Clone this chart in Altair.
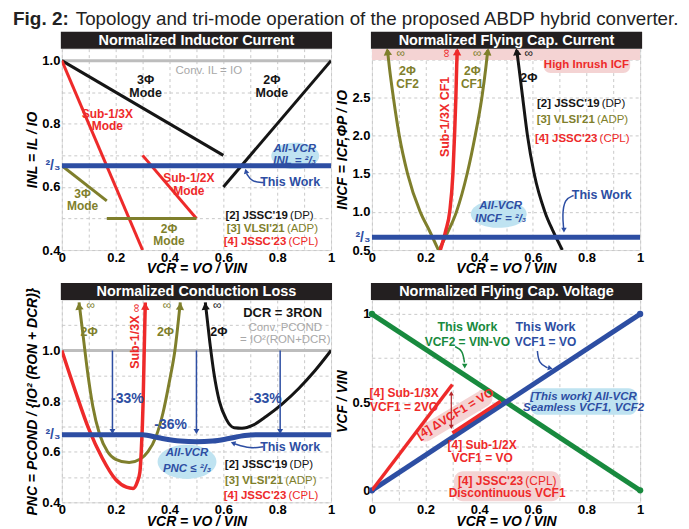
import altair as alt
import pandas as pd

FONT = "'Liberation Sans Narrow', 'Arial Narrow', 'Liberation Sans', Arial, sans-serif"
BLUE = "#2d4ea3"
RED = "#ee2a2a"
OLIVE = "#7f7f2c"
BLACK = "#151515"
GRAY = "#bdbdbd"
TGRAY = "#a8a8a8"
GREEN = "#188a3e"
LBLUE = "#bfe3f1"
PINK = "#f4d3d3"
DRED = "#b3262a"
W, H = 270, 202

# ---------------- data: panel 1 (inductor current) ----------------
p1_conv_x = [0, 1];        p1_conv_y = [1.0, 1.0]
p1_dp3_x = [0, 0.6];       p1_dp3_y = [1.0, 0.7]
p1_dp2_x = [0.6, 1.0];     p1_dp2_y = [0.6, 1.0]
p1_cpl3_x = [0, 0.3];      p1_cpl3_y = [1.0, 0.4]
p1_cpl2_x = [0.3, 0.5];    p1_cpl2_y = [0.7, 0.5]
p1_adp3_x = [0, 0.167];    p1_adp3_y = [0.667, 0.556]
p1_adp2_x = [0.167, 0.5];  p1_adp2_y = [0.5, 0.5]
p1_this_x = [0, 1];        p1_this_y = [0.6667, 0.6667]

# ---------------- data: panel 2 (flying cap current) ----------------
p2_cf2_x = [0.248, 0.215, 0.18, 0.133, 0.102, 0.08, 0.065, 0.058]
p2_cf2_y = [0.5, 0.75, 1.0, 1.5, 2.0, 2.5, 2.9, 3.12]
p2_cf1_x = [0.25, 0.285, 0.315, 0.355, 0.385, 0.41, 0.425, 0.432]
p2_cf1_y = [0.5, 0.75, 1.0, 1.5, 2.0, 2.5, 2.9, 3.12]
p2_cpl_x = [0.255, 0.275, 0.29, 0.302, 0.308, 0.313, 0.316, 0.318]
p2_cpl_y = [0.5, 0.75, 1.0, 1.5, 2.0, 2.5, 2.9, 3.12]
p2_dp_x = [0.71, 0.675, 0.645, 0.605, 0.58, 0.562, 0.548, 0.54]
p2_dp_y = [0.5, 0.75, 1.0, 1.5, 2.0, 2.5, 2.9, 3.12]
p2_this_x = [0, 1];        p2_this_y = [0.6667, 0.6667]

# ---------------- data: panel 3 (conduction loss) ----------------
p3_conv_x = [0, 1];        p3_conv_y = [1.0, 1.0]
p3_cpl_x = [0, 0.05, 0.1, 0.15, 0.2, 0.24, 0.265, 0.28, 0.29, 0.295, 0.302, 0.306, 0.31]
p3_cpl_y = [1.0, 0.84, 0.69, 0.575, 0.49, 0.46, 0.455, 0.48, 0.52, 0.6, 0.8, 1.0, 1.19]
p3_adp_x = [0.064, 0.08, 0.095, 0.115, 0.14, 0.17, 0.2, 0.25, 0.29, 0.32, 0.35, 0.375, 0.4, 0.42, 0.44]
p3_adp_y = [1.19, 1.05, 0.92, 0.78, 0.67, 0.6, 0.57, 0.557, 0.57, 0.6, 0.66, 0.75, 0.88, 1.0, 1.19]
p3_dp_x = [0.533, 0.55, 0.565, 0.585, 0.61, 0.64, 0.67, 0.71, 0.76, 0.82, 0.88, 0.94, 1.0]
p3_dp_y = [1.19, 1.03, 0.91, 0.8, 0.73, 0.695, 0.693, 0.705, 0.74, 0.79, 0.85, 0.92, 1.0]
p3_this_x = [0, 0.3, 0.36, 0.44, 0.5, 0.56, 0.62, 0.68, 0.72, 1.0]
p3_this_y = [0.667, 0.667, 0.655, 0.642, 0.639, 0.642, 0.652, 0.664, 0.667, 0.667]
p3_drop_x = [0.188, 0.5, 0.811]
p3_drop_lbl = ["-33%", "-36%", "-33%"]

# ---------------- data: panel 4 (flying cap voltage) ----------------
p4_cf2_x = [0, 1];         p4_cf2_y = [1, 0]
p4_cf1_x = [0, 1];         p4_cf1_y = [0, 1]
p4_s3_x = [0, 0.3];        p4_s3_y = [0, 0.6]
p4_s2_x = [0.3, 0.48];     p4_s2_y = [0.325, 0.505]

state = {}


def X():
    return alt.X("x:Q", scale=alt.Scale(domain=state["xd"], nice=False, zero=False), axis=state["xa"])


def Y():
    return alt.Y("y:Q", scale=alt.Scale(domain=state["yd"], nice=False, zero=False), axis=state["ya"])


def L(xs, ys, color, width=3, interp="linear", clip=True, cap="butt"):
    df = pd.DataFrame({"x": xs, "y": ys, "o": list(range(len(xs)))})
    return alt.Chart(df).mark_line(color=color, strokeWidth=width, interpolate=interp,
                                   clip=clip, strokeCap=cap).encode(x=X(), y=Y(), order="o:Q")


def P(x, y, color, shape="triangle-up", size=60, angle=0):
    df = pd.DataFrame({"x": [x], "y": [y]})
    return alt.Chart(df).mark_point(shape=shape, size=size, angle=angle, filled=True,
                                    color=color, opacity=1, strokeWidth=0).encode(x=X(), y=Y())


def R(x1, x2, y1, y2, color, radius=0):
    df = pd.DataFrame({"x": [x1], "x2": [x2], "y": [y1], "y2": [y2]})
    return alt.Chart(df).mark_rect(color=color, cornerRadius=radius, clip=True).encode(
        x=X(), x2="x2:Q", y=Y(), y2="y2:Q")


def E(x, y, w, ratio, color=LBLUE):
    path = f"M-1,0A1,{ratio} 0 1,0 1,0A1,{ratio} 0 1,0 -1,0Z"
    return P(x, y, color, shape=path, size=w * w)


def T(x, y, text, color=BLACK, size=12, weight="bold", style="normal", align="center", angle=0,
      baseline="middle"):
    lh = size * 1.05
    n = text.count("\n") + 1
    if n > 1:  # centre the block of lines on y
        y = y + (n - 1) / 2 * lh * (state["yd"][1] - state["yd"][0]) / H
    df = pd.DataFrame({"x": [x], "y": [y], "t": [text]})
    return alt.Chart(df).mark_text(color=color, fontSize=size, fontWeight=weight, fontStyle=style,
                                   align=align, baseline=baseline, angle=angle, font=FONT,
                                   lineBreak="\n", lineHeight=lh).encode(x=X(), y=Y(), text="t:N")


def label_expr(mapping):
    expr = "''"
    for v, s in mapping.items():
        expr = f"abs(datum.value-({v}))<1e-4 ? '{s}' : " + expr
    return expr


XVALS = [round(i * 0.1, 1) for i in range(11)]
XLABELS = {0: "0", 0.2: "0.2", 0.4: "0.4", 0.6: "0.6", 0.8: "0.8", 1: "1"}
TWO_THIRDS = "abs(datum.value-0.6667)<0.01"


def setup(xd, yd, yvals, ymap, ytitle, ytpad=2):
    state["xd"], state["yd"] = xd, yd
    state["xa"] = alt.Axis(values=XVALS, labelExpr=label_expr(XLABELS), title="VCR = VO / VIN",
                           titleFont=FONT, titleFontSize=14, titleFontStyle="italic", titleFontWeight="bold",
                           labelFont=FONT, labelFontSize=13, labelFontWeight="bold", labelColor="black",
                           titleColor="black", ticks=False, domain=False, grid=True, gridDash=[3, 3],
                           gridColor="#c9c9c9", labelPadding=1, titlePadding=-2, labelFlush=False,
                           labelOverlap=False)
    state["ya"] = alt.Axis(values=yvals, labelExpr=label_expr(ymap), title=ytitle,
                           titleFont=FONT, titleFontSize=14, titleFontStyle="italic", titleFontWeight="bold",
                           labelFont=FONT, labelFontWeight="bold",
                           labelFontSize={"condition": {"test": TWO_THIRDS, "value": 14}, "value": 13},
                           labelColor={"condition": {"test": TWO_THIRDS, "value": BLUE}, "value": "black"},
                           titleColor="black", ticks=False, domain=False, grid=True, gridDash=[3, 3],
                           gridColor="#c9c9c9", labelPadding=2, titlePadding=ytpad, labelFlush=False,
                           labelOverlap=False)


def title_bar(text):
    df = pd.DataFrame({"t": [text]})
    bar = alt.Chart(df).mark_rect(color="#231f20").encode(
        x=alt.value(-1), x2=alt.value(W + 1), y=alt.value(-17), y2=alt.value(0))
    txt = alt.Chart(df).mark_text(color="white", fontSize=14.5, fontWeight="bold", font=FONT,
                                  baseline="middle").encode(x=alt.value(W / 2), y=alt.value(-8), text="t:N")
    return [bar, txt]


def legend(splits, ys, size=11.5):
    out = []
    items = [("[2] JSSC'19", "(DP)", BLACK), ("[3] VLSI'21", "(ADP)", OLIVE), ("[4] JSSC'23", "(CPL)", RED)]
    for (b, n, c), y, s in zip(items, ys, splits):
        out.append(T(s - 0.008, y, b, c, size=size, align="right"))
        out.append(T(s, y, n, c, size=size, weight="normal", align="left"))
    return out


# ---------------- panel 1 ----------------
setup([0, 1], [0.4, 1.038], [0.4, 0.5, 0.6, 0.6667, 0.7, 0.8, 0.9, 1.0],
      {0.4: "0.4", 0.6: "0.6", 0.6667: "²/₃", 0.8: "0.8", 1.0: "1.0"}, "INL = IL / IO")
p1_layers = [L(p1_conv_x, p1_conv_y, GRAY, 3),
             T(0.546, 0.968, "Conv. IL = IO", TGRAY, 11.5, "normal"),
             E(0.867, 0.698, 48, 0.55),
             L(p1_dp3_x, p1_dp3_y, BLACK, 3), L(p1_dp2_x, p1_dp2_y, BLACK, 3),
             L(p1_cpl3_x, p1_cpl3_y, RED, 3), L(p1_cpl2_x, p1_cpl2_y, RED, 3),
             L(p1_adp3_x, p1_adp3_y, OLIVE, 3), L(p1_adp2_x, p1_adp2_y, OLIVE, 3),
             L(p1_this_x, p1_this_y, BLUE, 5),
             T(0.311, 0.917, "3Φ\nMode", BLACK, 12.5), T(0.78, 0.917, "2Φ\nMode", BLACK, 12.5),
             T(0.169, 0.812, "Sub-1/3X\nMode", RED, 12), T(0.472, 0.608, "Sub-1/2X\nMode", RED, 12),
             T(0.077, 0.558, "3Φ\nMode", OLIVE, 12), T(0.398, 0.448, "2Φ\nMode", OLIVE, 12),
             T(0.865, 0.719, "All-VCR", BLUE, 11.5, style="italic"),
             T(0.865, 0.681, "INL = ²/₃", BLUE, 11.5, style="italic"),
             L([0.75, 0.705, 0.686], [0.614, 0.616, 0.643], BLUE, 1.5, "basis"),
             P(0.684, 0.65, BLUE, size=30, angle=345),
             T(0.848, 0.614, "This Work", BLUE, 12.5),
             ] + legend([0.848, 0.836, 0.842], [0.509, 0.466, 0.427]) \
            + title_bar("Normalized Inductor Current") \
            + [alt.Chart(pd.DataFrame({"t": ["Fig. 2:"]})).mark_text(
                   font=FONT, fontSize=19, fontWeight="bold", align="left", baseline="alphabetic",
                   color="#222").encode(x=alt.value(-49), y=alt.value(-24), text="t:N"),
               alt.Chart(pd.DataFrame({"t": ["Topology and tri-mode operation of the proposed ABDP hybrid converter."]})).mark_text(
                   font=FONT, fontSize=18.8, fontWeight="normal", align="left", baseline="alphabetic",
                   color="#222").encode(x=alt.value(14), y=alt.value(-24), text="t:N")]
p1 = alt.layer(*p1_layers).properties(width=W, height=H)

# ---------------- panel 2 ----------------
setup([0, 1], [0.5, 3.14], [0.5, 0.6667, 1.0, 1.5, 2.0, 2.5, 3.0],
      {0.5: "0.5", 0.6667: "²/₃", 1.0: "1.0", 1.5: "1.5", 2.0: "2.0", 2.5: "2.5"}, "INCF = ICF,ΦP / IO")
p2_layers = [R(0, 1, 2.99, 3.14, PINK), R(0.64, 0.963, 2.82, 3.05, PINK, 7),
             T(0.80, 2.93, "High Inrush ICF", RED, 11.5),
             E(0.473, 0.974, 56, 0.5),
             L(p2_cf2_x, p2_cf2_y, OLIVE, 3, "monotone"), L(p2_cf1_x, p2_cf1_y, OLIVE, 3, "monotone"),
             L(p2_cpl_x, p2_cpl_y, RED, 3.5, "monotone"), L(p2_dp_x, p2_dp_y, BLACK, 3, "monotone"),
             P(0.058, 3.1, OLIVE, size=70, angle=353), P(0.432, 3.1, OLIVE, size=70, angle=7),
             P(0.318, 3.1, RED, size=70, angle=2), P(0.54, 3.1, BLACK, size=70, angle=352),
             T(0.108, 3.08, "∞", OLIVE, 12, "normal"), T(0.393, 3.08, "∞", OLIVE, 12, "normal"),
             T(0.585, 3.08, "∞", BLACK, 12, "normal"), T(0.275, 3.08, "∞", RED, 12, "normal", angle=270),
             T(0.272, 2.245, "Sub-1/3X  CF1", RED, 12.5, angle=270),
             T(0.133, 2.76, "2Φ\nCF2", OLIVE, 12), T(0.374, 2.76, "2Φ\nCF1", OLIVE, 12),
             T(0.585, 2.75, "2Φ", BLACK, 12.5),
             L(p2_this_x, p2_this_y, BLUE, 5),
             T(0.48, 1.08, "All-VCR", BLUE, 11.5, style="italic"),
             T(0.48, 0.91, "INCF = ²/₃", BLUE, 11.5, style="italic"),
             L([0.752, 0.718, 0.71, 0.715], [1.215, 1.17, 0.95, 0.78], BLUE, 1.5, "basis"),
             P(0.716, 0.76, BLUE, size=30, angle=180),
             T(0.857, 1.215, "This Work", BLUE, 12.5),
             ] + legend([0.857, 0.839, 0.849], [2.42, 2.2, 1.96]) \
            + title_bar("Normalized Flying Cap. Current")
p2 = alt.layer(*p2_layers).properties(width=W - 1, height=H)

# ---------------- panel 3 ----------------
setup([0, 1], [0.4, 1.2], [0.4, 0.5, 0.6, 0.6667, 0.7, 0.8, 0.9, 1.0, 1.1],
      {0.4: "0.4", 0.6: "0.6", 0.6667: "²/₃", 0.8: "0.8", 1.0: "1.0"}, "PNC = PCOND / {IO² (RON + DCR)}")
p3_layers = [L(p3_conv_x, p3_conv_y, GRAY, 3),
             E(0.465, 0.56, 59, 0.58),
             L(p3_adp_x, p3_adp_y, OLIVE, 3, "monotone"),
             L(p3_dp_x, p3_dp_y, BLACK, 3, "monotone"),
             L(p3_cpl_x, p3_cpl_y, RED, 3.5, "monotone"),
             P(0.064, 1.175, OLIVE, size=70, angle=353), P(0.44, 1.175, OLIVE, size=70, angle=6),
             P(0.31, 1.175, RED, size=70, angle=1), P(0.533, 1.175, BLACK, size=70, angle=353),
             T(0.107, 1.18, "∞", OLIVE, 12, "normal"), T(0.391, 1.18, "∞", OLIVE, 12, "normal"),
             T(0.577, 1.18, "∞", BLACK, 12, "normal"), T(0.275, 1.168, "∞", RED, 12, "normal", angle=270),
             T(0.272, 1.033, "Sub-1/3X", RED, 12.5, angle=270),
             T(0.101, 1.073, "2Φ", OLIVE, 12.5), T(0.385, 1.073, "2Φ", OLIVE, 12.5),
             T(0.583, 1.073, "2Φ", BLACK, 12.5),
             T(0.82, 1.147, "DCR = 3RON", BLACK, 13),
             T(0.83, 1.087, "Conv. PCOND", TGRAY, 11.5, "normal"),
             T(0.83, 1.04, "= IO²(RON+DCR)", TGRAY, 11.5, "normal"),
             ]
for xv in p3_drop_x:
    p3_layers += [L([xv, xv], [1.0, 0.69], BLUE, 1.5), P(xv, 0.68, BLUE, size=35, angle=180)]
p3_layers += [T(0.243, 0.807, p3_drop_lbl[0], BLUE, 14), T(0.404, 0.707, p3_drop_lbl[1], BLUE, 14),
              T(0.756, 0.807, p3_drop_lbl[2], BLUE, 14),
              L(p3_this_x, p3_this_y, BLUE, 5, "monotone"),
              T(0.465, 0.593, "All-VCR", BLUE, 11.5, style="italic"),
              T(0.465, 0.533, "PNC ≤ ²/₃", BLUE, 11.5, style="italic"),
              L([0.749, 0.7, 0.64], [0.62, 0.612, 0.632], BLUE, 1.5, "basis"),
              P(0.636, 0.634, BLUE, size=30, angle=290),
              T(0.848, 0.62, "This Work", BLUE, 12.5)] \
    + legend([0.846, 0.83, 0.842], [0.549, 0.484, 0.424]) \
    + title_bar("Normalized Conduction Loss")
p3 = alt.layer(*p3_layers).properties(width=W, height=H + 1)

# ---------------- panel 4 ----------------
setup([0, 1], [-0.068, 1.08], [0, 0.25, 0.5, 0.75, 1.0], {0: "0", 0.5: "0.5", 1.0: "1"}, "VCF / VIN")
p4_layers = [R(0.589, 0.99, 0.428, 0.579, LBLUE, 9),
             R(0.306, 0.703, -0.062, 0.108, PINK, 9),
             L([0.2, 0.418], [0.325, 0.523], PINK, 17, cap="round"),
             L(p4_cf2_x, p4_cf2_y, GREEN, 5), L(p4_cf1_x, p4_cf1_y, BLUE, 5),
             P(0, 1, GREEN, "circle", 40), P(1, 0, GREEN, "circle", 40),
             P(0, 0, BLUE, "circle", 40), P(1, 1, BLUE, "circle", 40),
             L(p4_s3_x, p4_s3_y, RED, 3.5), L(p4_s2_x, p4_s2_y, RED, 3.5),
             L([0.296, 0.296], [0.37, 0.545], DRED, 1.2),
             P(0.296, 0.55, DRED, size=25, angle=0), P(0.296, 0.36, DRED, size=25, angle=180),
             T(0.31, 0.435, "[4] ΔVCF1 = VO", RED, 12, angle=329),
             T(0.356, 0.928, "This Work", GREEN, 12.5), T(0.356, 0.843, "VCF2 = VIN-VO", GREEN, 12),
             L([0.31, 0.338, 0.345], [0.815, 0.795, 0.725], GREEN, 1.5, "basis"),
             P(0.346, 0.705, GREEN, size=30, angle=180),
             T(0.647, 0.928, "This Work", BLUE, 12.5), T(0.647, 0.843, "VCF1 = VO", BLUE, 12),
             L([0.617, 0.622, 0.655], [0.79, 0.72, 0.695], BLUE, 1.5, "basis"),
             P(0.665, 0.693, BLUE, size=30, angle=105),
             T(0.789, 0.532, "[This work] All-VCR", BLUE, 11.5, style="italic"),
             T(0.789, 0.466, "Seamless VCF1, VCF2", BLUE, 11.5, style="italic"),
             T(0.12, 0.551, "[4] Sub-1/3X", RED, 12), T(0.12, 0.475, "VCF1 = 2VO", RED, 12),
             T(0.411, 0.258, "[4] Sub-1/2X", RED, 12), T(0.411, 0.183, "VCF1 = VO", RED, 12),
             T(0.564, 0.051, "[4] JSSC'23", RED, 12, align="right"),
             T(0.572, 0.051, "(CPL)", RED, 12, "normal", align="left"),
             T(0.504, -0.015, "Discontinuous VCF1", RED, 12),
             ] + title_bar("Normalized Flying Cap. Voltage")
p4 = alt.layer(*p4_layers).properties(width=W - 1, height=H + 1)

chart = alt.concat(p1, p2, p3, p4, columns=2, spacing={"row": 50, "column": 41}, bounds="flush") \
    .properties(padding={"left": 4, "top": 0, "right": 0, "bottom": 0}, background="white") \
    .configure_view(stroke="#231f20", strokeWidth=2) \
    .configure(font=FONT)

chart.save("out.html", embed_options={"renderer": "svg", "actions": False})
